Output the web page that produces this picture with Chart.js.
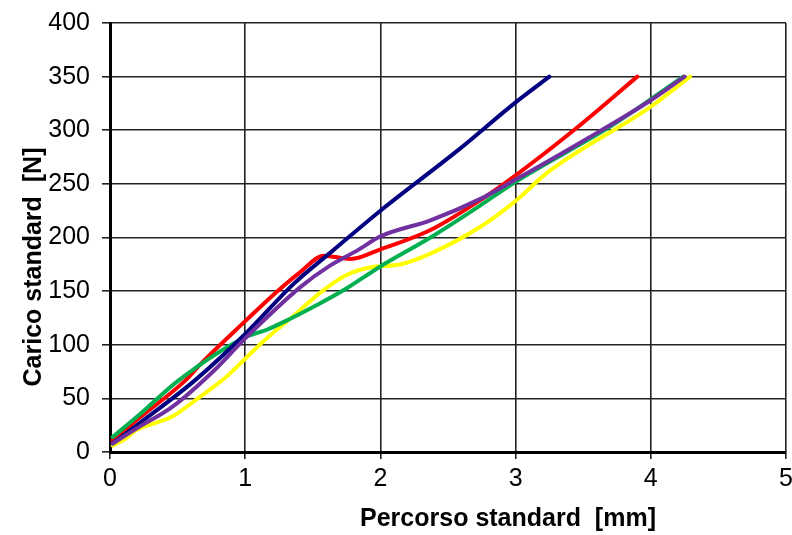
<!DOCTYPE html>
<html>
<head>
<meta charset="utf-8">
<script src="https://cdn.jsdelivr.net/npm/chart.js@4/dist/chart.umd.min.js"></script>
<style>
html,body{margin:0;padding:0;background:#fff;}
#wrap{width:792px;height:535px;}
</style>
</head>
<body>
<div id="wrap"><canvas id="c" width="792" height="535"></canvas></div>
<script>
// Data: [x (mm), y (N)]
const xTitle = "Percorso standard  [mm]";
const yTitle = "Carico standard  [N]";
const xTicks = [0, 1, 2, 3, 4, 5];
const yTicks = [0, 50, 100, 150, 200, 250, 300, 350, 400];

const purpleX = [0.02, 0.21, 0.46, 0.77, 1.00, 1.41, 1.63, 1.83, 2.00, 2.37, 2.74, 3.00, 3.50, 4.00, 4.25];
const purpleY = [8, 23, 42, 76, 106, 154, 174, 188, 201, 216, 236, 254, 290, 328, 350];

const navyX = [0.02, 0.21, 0.63, 1.00, 1.36, 1.65, 2.00, 2.57, 3.00, 3.25];
const navyY = [8, 26, 67, 110, 157, 188, 225, 281, 326, 350];

const greenX = [0.02, 0.21, 0.51, 1.00, 1.16, 1.33, 1.53, 1.73, 2.00, 2.37, 2.74, 3.00, 3.72, 4.24];
const greenY = [14, 34, 67, 107, 114, 124, 137, 151, 173, 200, 230, 252, 305, 350];

const redX = [0.02, 0.21, 0.56, 0.67, 1.00, 1.23, 1.41, 1.58, 1.78, 2.00, 2.37, 2.74, 3.00, 3.43, 3.90];
const redY = [11, 31, 67, 82, 122, 149, 168, 183, 180, 189, 207, 235, 258, 300, 350];

const yellowX = [0.02, 0.11, 0.19, 0.46, 0.66, 0.85, 1.00, 1.16, 1.33, 1.58, 1.75, 1.92, 2.15, 2.37, 2.74, 3.00, 3.23, 4.00, 4.29];
const yellowY = [6, 12, 20, 33, 51, 69, 87, 106, 124, 151, 165, 172, 175, 185, 210, 234, 260, 322, 350];

function pts(xs, ys) { return xs.map((x, i) => ({ x: x, y: ys[i] })); }

function ds(label, xs, ys, color) {
  return {
    label: label,
    data: pts(xs, ys),
    borderColor: color,
    backgroundColor: color,
    borderWidth: 4,
    pointRadius: 0,
    showLine: true,
    fill: false,
    cubicInterpolationMode: 'monotone',
    borderCapStyle: 'round',
    borderJoinStyle: 'round'
  };
}

const titlePlugin = {
  id: 'axisTitles',
  afterDraw(chart) {
    const ctx = chart.ctx;
    ctx.save();
    ctx.fillStyle = '#000';
    ctx.font = 'bold 25px "Liberation Sans", Arial, sans-serif';
    ctx.textAlign = 'center';
    ctx.textBaseline = 'middle';
    ctx.fillText(xTitle, 508, 519);
    ctx.translate(34, 267);
    ctx.rotate(-Math.PI / 2);
    ctx.fillText(yTitle, 0, 0);
    ctx.restore();
  }
};

new Chart(document.getElementById('c'), {
  type: 'scatter',
  data: {
    datasets: [
      ds('Purple', purpleX, purpleY, '#7030A0'),
      ds('Navy', navyX, navyY, '#000080'),
      ds('Green', greenX, greenY, '#00B050'),
      ds('Red', redX, redY, '#FF0000'),
      ds('Yellow', yellowX, yellowY, '#FFFF00')
    ]
  },
  options: {
    responsive: false,
    animation: false,
    layout: { padding: { top: 23, right: 6, left: 0, bottom: 0 } },
    plugins: { legend: { display: false }, tooltip: { enabled: false } },
    scales: {
      x: {
        type: 'linear',
        min: 0, max: 5,
        afterBuildTicks(s) { s.ticks = xTicks.map(v => ({ value: v })); },
        afterFit(s) { s.height = 83; s.paddingLeft = 0; s.paddingRight = 0; },
        ticks: {
          color: '#000',
          font: { family: '"Liberation Sans", Arial, sans-serif', size: 25 },
          padding: 5,
          maxRotation: 0
        },
        grid: { color: '#222', lineWidth: 1.6, tickLength: 7, drawTicks: true },
        border: { color: '#000', width: 3 }
      },
      y: {
        type: 'linear',
        min: 0, max: 400,
        afterBuildTicks(s) { s.ticks = yTicks.map(v => ({ value: v })); },
        afterFit(s) { s.width = 110; s.paddingTop = 0; s.paddingBottom = 0; },
        ticks: {
          color: '#000',
          font: { family: '"Liberation Sans", Arial, sans-serif', size: 25 },
          padding: 12
        },
        grid: { color: '#222', lineWidth: 1.6, tickLength: 8, drawTicks: true },
        border: { color: '#000', width: 3 }
      }
    }
  },
  plugins: [titlePlugin]
});
</script>
</body>
</html>
